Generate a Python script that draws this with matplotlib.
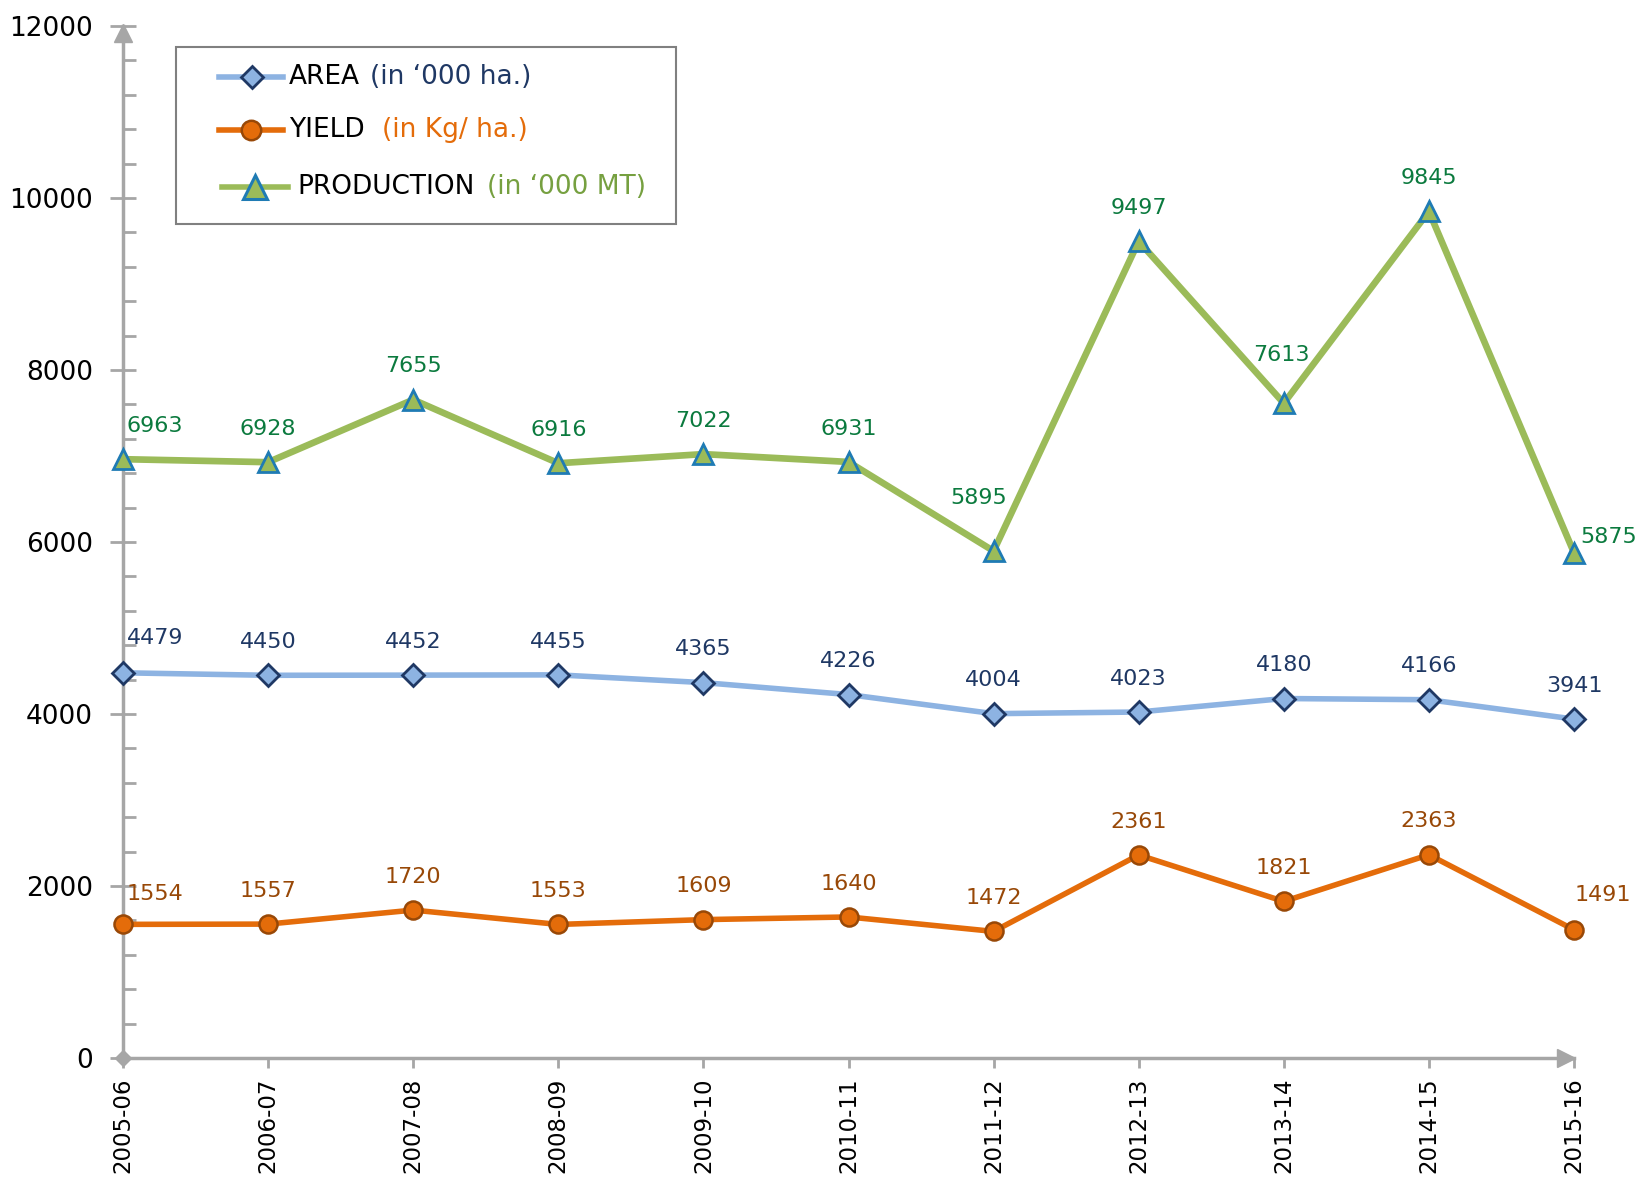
import matplotlib.pyplot as plt
from matplotlib.lines import Line2D
from matplotlib.patches import Rectangle
from matplotlib.transforms import ScaledTranslation

# data
years = ["2005-06", "2006-07", "2007-08", "2008-09", "2009-10", "2010-11",
         "2011-12", "2012-13", "2013-14", "2014-15", "2015-16"]
area = [4479, 4450, 4452, 4455, 4365, 4226, 4004, 4023, 4180, 4166, 3941]
yld = [1554, 1557, 1720, 1553, 1609, 1640, 1472, 2361, 1821, 2363, 1491]
production = [6963, 6928, 7655, 6916, 7022, 6931, 5895, 9497, 7613, 9845, 5875]

W, H = 1638, 1177
fig = plt.figure(figsize=(W / 100, H / 100), dpi=100)
ax = fig.add_axes([123 / W, 1 - 1058 / H, (1574 - 123) / W, (1058 - 26) / H])

x = list(range(len(years)))
grey = "#a6a6a6"

# lines
ax.plot(x, area, color="#8db3e2", lw=4, marker="D", ms=11,
        mfc="#8db3e2", mec="#1f3864", mew=2, zorder=3, clip_on=False)
ax.plot(x, yld, color="#e46c0a", lw=4, marker="o", ms=13,
        mfc="#e46c0a", mec="#984807", mew=1.8, zorder=3, clip_on=False)
ax.plot(x, production, color="#9bbb59", lw=4.8, marker="^", ms=14,
        mfc="#9bbb59", mec="#1f7bb4", mew=2, zorder=3, clip_on=False)

# data labels (offsets in points)
def offs(special, n):
    o = [(0, 24)] * n
    for k, v in special.items():
        o[k] = v
    return o

area_off = offs({0: (23, 25)}, len(x))
yld_off = offs({0: (23, 22), 10: (21, 25)}, len(x))
prod_off = offs({0: (23, 24), 6: (-11, 38), 8: (-2, 35), 10: (25, 11)}, len(x))

for i in x:
    ax.annotate(str(area[i]), (i, area[i]), xytext=area_off[i], textcoords="offset points",
                ha="center", va="center", fontsize=16, color="#1f3864")
    ax.annotate(str(yld[i]), (i, yld[i]), xytext=yld_off[i], textcoords="offset points",
                ha="center", va="center", fontsize=16, color="#984807")
    ax.annotate(str(production[i]), (i, production[i]), xytext=prod_off[i], textcoords="offset points",
                ha="center", va="center", fontsize=16, color="#0b7a3e")

# axes styling
ax.set_xlim(0, 10)
ax.set_ylim(0, 12000)
ax.set_xticks(x)
ax.set_xticklabels(years, rotation=90, fontsize=16.5)
ax.set_yticks(range(0, 12001, 2000))
ax.set_yticks(range(0, 12001, 400), minor=True)
ax.tick_params(axis="y", which="major", direction="inout", length=19, width=2,
               color=grey, labelsize=19, pad=12)
ax.tick_params(axis="y", which="minor", direction="in", length=9, width=2, color=grey)
ax.tick_params(axis="x", direction="out", length=7, width=2, color=grey, pad=7)
for s in ["top", "right"]:
    ax.spines[s].set_visible(False)
for s in ["left", "bottom"]:
    ax.spines[s].set_color(grey)
    ax.spines[s].set_linewidth(2.5)

# arrow heads and origin diamond
ax.plot([0], [1], marker="^", ms=13, color=grey, transform=ax.transAxes +
        ScaledTranslation(0, -0.07, fig.dpi_scale_trans), clip_on=False, zorder=2)
ax.plot([1], [0], marker=">", ms=13, color=grey, transform=ax.transAxes +
        ScaledTranslation(-0.08, 0, fig.dpi_scale_trans), clip_on=False, zorder=2)
ax.plot([0], [0], marker="D", ms=8, color=grey, transform=ax.transAxes,
        clip_on=False, zorder=2)

# legend, drawn by hand
fig.patches.append(Rectangle((176 / W, 1 - 224 / H), 500 / W, 177 / H,
                             transform=fig.transFigure, fill=False,
                             edgecolor="#808080", lw=1.5))
entries = [
    (77, 219, 283, 252, dict(color="#8db3e2", marker="D", ms=11, mfc="#8db3e2", mec="#1f3864", mew=2),
     "AREA", 289, "(in \u2018000 ha.)", 370, "#1f3864"),
    (130, 219, 283, 251, dict(color="#e46c0a", marker="o", ms=14, mfc="#e46c0a", mec="#984807", mew=1.8),
     "YIELD", 289, "(in Kg/ ha.)", 382, "#e46c0a"),
    (187, 222, 288, 255, dict(color="#9bbb59", marker="^", ms=17, mfc="#9bbb59", mec="#1f7bb4", mew=2.2),
     "PRODUCTION", 297, "(in \u2018000 MT)", 487, "#76a040"),
]
for yy, x0, x1, xm, st, name, xn, unit, xu, uc in entries:
    fy = 1 - yy / H
    st = dict(st)
    kw = {k: st.pop(k) for k in ["marker", "ms", "mfc", "mec", "mew"]}
    fig.add_artist(Line2D([x0 / W, x1 / W], [fy, fy], lw=4, transform=fig.transFigure, **st))
    fig.add_artist(Line2D([xm / W], [fy], transform=fig.transFigure, color=st["color"], **kw))
    fig.text(xn / W, fy, name, fontsize=19, va="center", ha="left", color="black")
    fig.text(xu / W, fy, unit, fontsize=19, va="center", ha="left", color=uc)

fig.savefig("out.png", dpi=100)
